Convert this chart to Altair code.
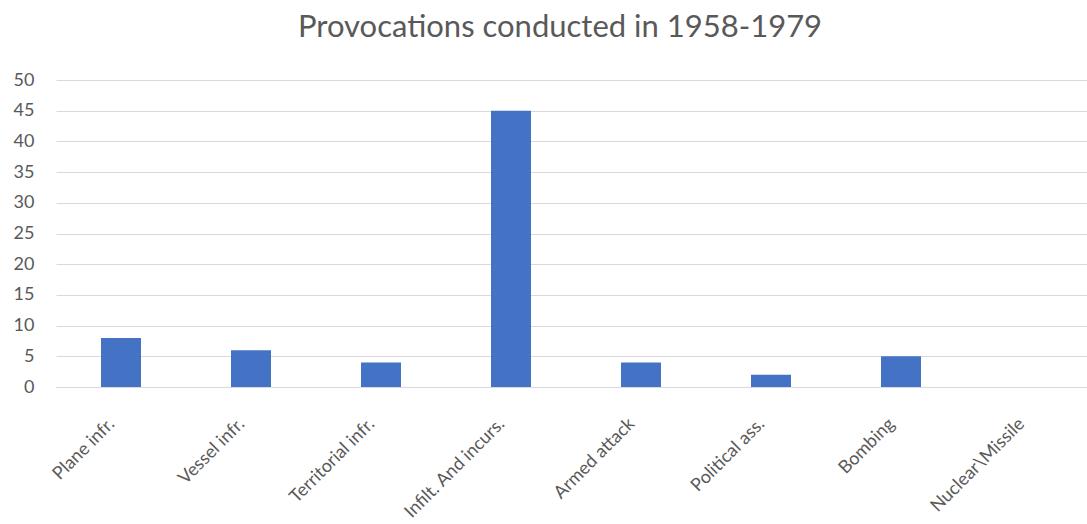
import altair as alt
import pandas as pd

# Provocation categories and counts, 1958-1979
categories = [
    "Plane infr.",
    "Vessel infr.",
    "Territorial infr.",
    "Infilt. And incurs.",
    "Armed attack",
    "Political ass.",
    "Bombing",
    "Nuclear\\Missile",
]
counts = [8, 6, 4, 45, 4, 2, 5, 0]
y_ticks = [0, 5, 10, 15, 20, 25, 30, 35, 40, 45, 50]

df = pd.DataFrame({"category": categories, "count": counts})

FONT = "Lato"
GREY = "#595959"

chart = (
    alt.Chart(df)
    .mark_bar(color="#4472C4", size=40)
    .encode(
        x=alt.X(
            "category:N",
            sort=categories,
            title=None,
            scale=alt.Scale(paddingInner=0, paddingOuter=0, range=[0, 1040]),
            axis=alt.Axis(
                labelAngle=-45,
                labelAlign="right",
                labelBaseline="middle",
                labelFontSize=18,
                labelColor=GREY,
                labelFont=FONT,
                labelPadding=34,
                labelOffset=-9,
                ticks=False,
                domainColor="#d9d9d9",
                domainWidth=1,
                labelLimit=300,
            ),
        ),
        y=alt.Y(
            "count:Q",
            title=None,
            scale=alt.Scale(domain=[0, 50], nice=False),
            axis=alt.Axis(
                values=y_ticks,
                labelFontSize=18,
                labelColor=GREY,
                labelFont=FONT,
                labelPadding=22,
                ticks=False,
                domain=False,
                gridColor="#d9d9d9",
                gridWidth=1,
            ),
        ),
    )
    .properties(
        width=1030,
        height=307,
        title=alt.TitleParams(
            "Provocations conducted in 1958-1979",
            fontSize=31,
            font=FONT,
            fontWeight="normal",
            color=GREY,
            anchor="middle",
            dx=-11,
            offset=27,
        ),
        padding={"left": 56, "top": 80, "right": 1, "bottom": 137},
        autosize=alt.AutoSizeParams(type="none"),
    )
    .configure_view(stroke=None)
)

chart.save("out.html", embed_options={"renderer": "svg", "actions": False})
